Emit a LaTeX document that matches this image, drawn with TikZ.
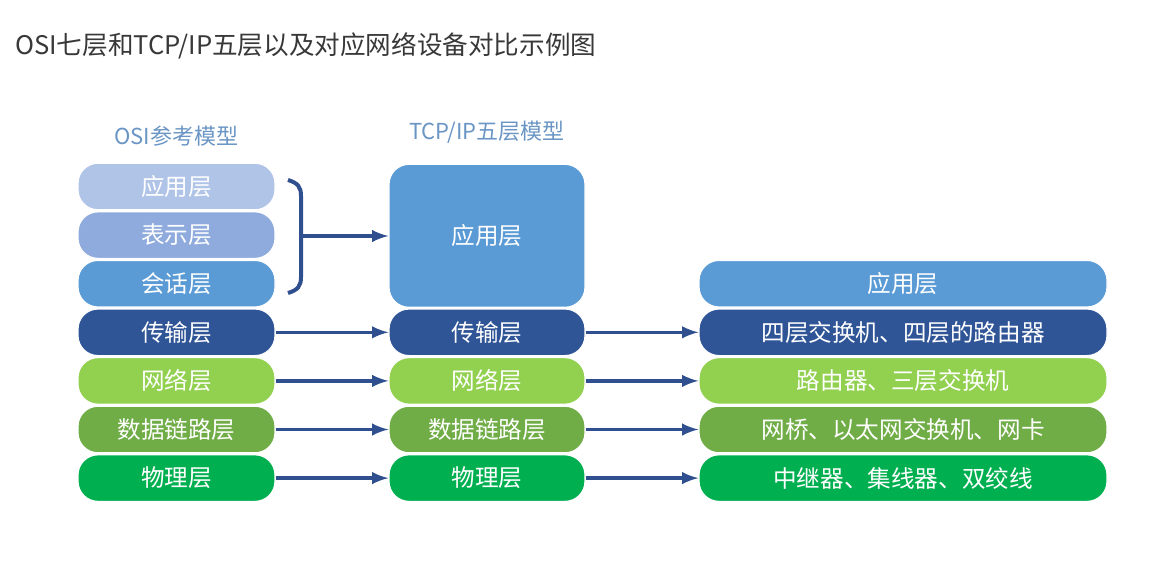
\documentclass[tikz,border=0pt]{standalone}
\usepackage{fontspec}
\setmainfont{Noto Sans CJK SC}
\definecolor{appL}{HTML}{B0C4E8}
\definecolor{preL}{HTML}{8FAADC}
\definecolor{sesL}{HTML}{5B9BD5}
\definecolor{traL}{HTML}{2F5597}
\definecolor{netL}{HTML}{92D050}
\definecolor{linL}{HTML}{70AD47}
\definecolor{phyL}{HTML}{00B050}
\definecolor{headC}{HTML}{6A95C4}
\definecolor{arrC}{HTML}{2F4F8F}

\begin{document}
\begin{tikzpicture}[x = 0.5pt, y = -0.5pt,
    layer/.style = {rounded corners = 10pt, draw = white, line width = 0.6pt, text = white,
        minimum height = 23.3pt, inner sep = 0pt, font = \fontsize{11.8}{14}\selectfont},
    osi/.style = {layer, minimum width = 98.5pt},
    tcp/.style = {layer, minimum width = 98pt},
    dev/.style = {layer, minimum width = 204pt},
    head/.style = {text = headC, font = \fontsize{11}{13}\selectfont},
    link/.style = {-latex, draw = arrC, line width = 1.8pt}]
    \useasboundingbox (0,0) rectangle (1176,578);
    \node[anchor = west, text = black!78, font = \fontsize{12.8}{15}\selectfont] (TITLE) at (8,46) {OSI七层和TCP/IP五层以及对应网络设备对比示例图};

    \node[head] (HOSI) at (176.5,136) {OSI参考模型};
    \node[head] (HTCP) at (487,132) {TCP/IP五层模型};

    \node[osi, fill = appL] (O1) at (176.5,186.5) {应用层};
    \node[osi, fill = preL] (O2) at (176.5,235.1) {表示层};
    \node[osi, fill = sesL] (O3) at (176.5,283.7) {会话层};
    \node[osi, fill = traL] (O4) at (176.5,332.3) {传输层};
    \node[osi, fill = netL] (O5) at (176.5,380.9) {网络层};
    \node[osi, fill = linL] (O6) at (176.5,429.5) {数据链路层};
    \node[osi, fill = phyL] (O7) at (176.5,478.1) {物理层};

    \node[tcp, fill = sesL, minimum height = 71.5pt] (T1) at (487,235.8) {应用层};
    \node[tcp, fill = traL] (T2) at (487,332.3) {传输层};
    \node[tcp, fill = netL] (T3) at (487,380.9) {网络层};
    \node[tcp, fill = linL] (T4) at (487,429.5) {数据链路层};
    \node[tcp, fill = phyL] (T5) at (487,478.1) {物理层};

    \node[dev, fill = sesL] (D1) at (903,283.7) {应用层};
    \node[dev, fill = traL] (D2) at (903,332.3) {四层交换机、四层的路由器};
    \node[dev, fill = netL] (D3) at (903,380.9) {路由器、三层交换机};
    \node[dev, fill = linL] (D4) at (903,429.5) {网桥、以太网交换机、网卡};
    \node[dev, fill = phyL] (D5) at (903,478.1) {中继器、集线器、双绞线};

    % brace over the upper three OSI layers
    \coordinate (BR) at (301,236);
    \draw[arrC, line width = 2pt] (288,180) .. controls (298,183) and (301,187) .. (301,196)
        -- (301,277) .. controls (301,286) and (298,290) .. (288,293);
    \draw[link] (BR) -- (T1.west |- BR);

    \draw[link] (O4.east) -- (T2.west);
    \draw[link] (O5.east) -- (T3.west);
    \draw[link] (O6.east) -- (T4.west);
    \draw[link] (O7.east) -- (T5.west);
    \draw[link] (T2.east) -- (D2.west);
    \draw[link] (T3.east) -- (D3.west);
    \draw[link] (T4.east) -- (D4.west);
    \draw[link] (T5.east) -- (D5.west);
\end{tikzpicture}
\end{document}
